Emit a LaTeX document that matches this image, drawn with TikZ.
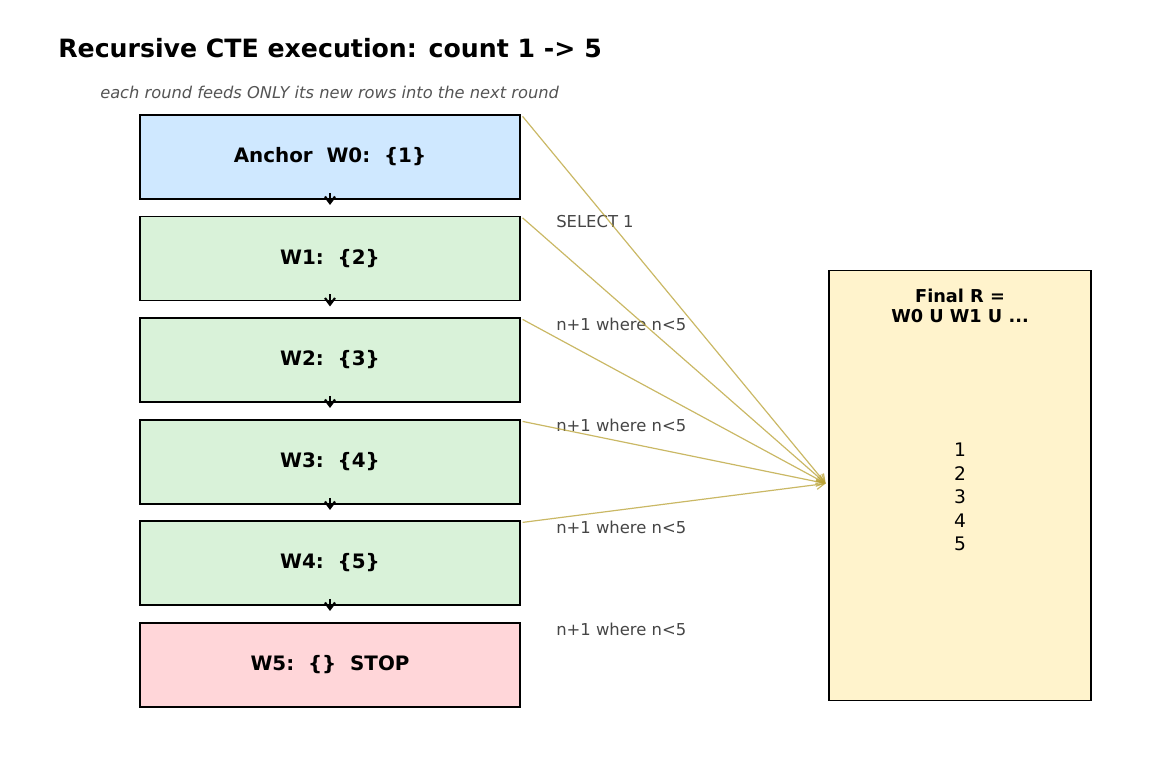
\documentclass[tikz,border=0pt]{standalone}
\usepackage{fontspec}
\setmainfont{DejaVu Sans}
\usetikzlibrary{arrows.meta}
\definecolor{anchorblue}{HTML}{CFE8FF}
\definecolor{roundgreen}{HTML}{D9F2D9}
\definecolor{stopred}{HTML}{FFD6D9}
\definecolor{finalyellow}{HTML}{FFF3CC}
\definecolor{feedgold}{HTML}{B8A032}
\tikzset{
  round/.style={draw=black, line width=0.9pt, minimum width=285pt, minimum height=63pt,
    inner sep=0pt, font=\fontsize{14.9}{17}\selectfont\bfseries},
  nextar/.style={-{Straight Barb[length=5pt,width=7.5pt,line width=1.6pt]}, line width=1.6pt},
  feed/.style={-{Straight Barb[length=6pt,width=7pt]}, draw=feedgold, draw opacity=0.75, line width=0.9pt},
  lbl/.style={anchor=west, inner sep=0pt, text=black!73, font=\fontsize{12.3}{14}\selectfont},
}
\begin{document}
\begin{tikzpicture}[x=0.75pt, y=-0.75pt]
\useasboundingbox (0,0) rectangle (1170,780);
% title
\node[anchor=west, inner sep=0pt, font=\fontsize{18.9}{22}\selectfont\bfseries] (title) at (58,48) {Recursive CTE execution: count 1 -> 5};
\node[anchor=west, inner sep=0pt, text=black!67, font=\fontsize{12.2}{14}\selectfont\itshape] (sub) at (100,92) {each round feeds ONLY its new rows into the next round};
% rounds
\node[round, fill=anchorblue] (w0) at (330,157) {Anchor\ \ W0:\ \ \{1\}};
\node[round, fill=roundgreen] (w1) at (330,258.5) {W1:\ \ \{2\}};
\node[round, fill=roundgreen] (w2) at (330,360) {W2:\ \ \{3\}};
\node[round, fill=roundgreen] (w3) at (330,462) {W3:\ \ \{4\}};
\node[round, fill=roundgreen] (w4) at (330,563) {W4:\ \ \{5\}};
\node[round, fill=stopred] (w5) at (330,665) {W5:\ \ \{\}\ \ STOP};
\foreach \a in {0,...,4}
  \draw[nextar] ([yshift=5pt]w\a.south) -- ([yshift=-4pt]w\a.south);
% labels
\node[lbl] (l1) at (556,222) {SELECT 1};
\node[lbl] (l2) at (556,324) {n+1 where n<5};
\node[lbl] (l3) at (556,425) {n+1 where n<5};
\node[lbl] (l4) at (556,527) {n+1 where n<5};
\node[lbl] (l5) at (556,629) {n+1 where n<5};
% result
\node[draw=black, line width=0.9pt, fill=finalyellow, minimum width=196.5pt, minimum height=323pt, inner sep=0pt] (fin) at (960,485.5) {};
\node[align=center, font=\fontsize{13.3}{15}\selectfont\bfseries] (finhead) at (960,306) {Final R =\\W0 U W1 U ...};
\node[align=center, font=\fontsize{14}{17.6}\selectfont] (rows) at (960,497) {1\\2\\3\\4\\5};
\coordinate (sink) at ([xshift=-2pt,yshift=1.5pt]fin.west);
\foreach \a in {0,...,4}
  \draw[feed] ([xshift=1.5pt,yshift=-1.5pt]w\a.north east) -- (sink);
\end{tikzpicture}
\end{document}
